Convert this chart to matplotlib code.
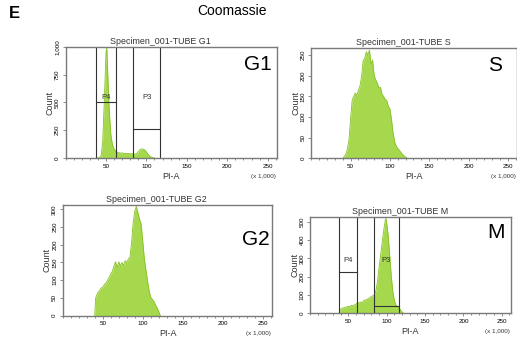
import matplotlib
matplotlib.use('Agg')
import matplotlib.pyplot as plt
from matplotlib.ticker import MultipleLocator, FuncFormatter

plt.rcParams['font.family'] = ['Liberation Sans', 'DejaVu Sans']

# PI-A (x 1,000) bin positions and counts
g1_x = [38, 40, 42, 44, 46, 48, 50, 51, 52, 54, 56, 58, 60, 62, 64, 66, 68, 70, 72, 74,
        76, 78, 80, 82, 84, 86, 88, 90, 92, 94, 96, 98, 100, 102, 104, 106, 108, 110]
g1_counts = [0, 0, 3, 20, 150, 520, 940, 995, 800, 430, 210, 120, 82, 64, 52, 47, 44, 46, 41, 43,
             39, 42, 37, 40, 36, 35, 40, 56, 74, 82, 79, 72, 55, 34, 18, 8, 3, 0]

s_x = [40, 42, 44, 46, 48, 50, 52, 54, 56, 58, 60, 62, 64, 66, 68, 70, 72, 74, 76, 78, 80,
       82, 84, 86, 88, 90, 92, 94, 96, 98, 100, 102, 104, 106, 108, 110, 112, 114, 116,
       118, 120, 122]
s_counts = [0, 4, 10, 22, 45, 95, 140, 150, 158, 152, 165, 175, 198, 236, 242, 258, 250, 262,
            228, 238, 200, 190, 182, 170, 172, 155, 150, 143, 140, 126, 120, 95, 62, 40, 30, 24,
            20, 14, 10, 6, 3, 0]

g2_x = [40, 41, 42, 44, 46, 48, 50, 52, 54, 56, 58, 60, 62, 64, 66, 68, 70, 72, 74, 76, 78,
        80, 82, 84, 86, 88, 90, 92, 94, 96, 98, 100, 102, 104, 106, 108, 110, 112, 114, 116,
        118, 120, 121, 122]
g2_counts = [0, 48, 55, 66, 70, 78, 80, 88, 92, 100, 108, 118, 125, 140, 152, 136, 152, 140,
             150, 142, 155, 150, 160, 165, 205, 262, 295, 308, 290, 272, 258, 210, 160, 128,
             98, 70, 52, 46, 40, 30, 22, 12, 5, 0]

m_x = [38, 39, 40, 42, 44, 46, 48, 50, 52, 54, 56, 58, 60, 62, 64, 66, 68, 70, 72, 74, 76,
       78, 80, 82, 84, 86, 88, 90, 92, 94, 96, 98, 99, 100, 102, 104, 106, 108, 110, 112,
       114, 116, 118, 120, 122]
m_counts = [0, 16, 22, 28, 30, 33, 35, 38, 36, 44, 40, 47, 50, 60, 55, 62, 58, 70, 72, 76,
            80, 86, 92, 96, 100, 125, 175, 250, 315, 385, 450, 505, 518, 490, 420, 310, 200,
            115, 70, 45, 38, 32, 18, 6, 0]

# interval gates: (name, low, high, bar level)
g1_gates = [('P4', 38, 62, 505), ('P3', 84, 117, 261)]
m_gates = [('P4', 38, 61.5, 228), ('P3', 83, 116, 38)]

fill_color = '#a6d84e'
edge_color = '#86c028'
frame_color = '#7a7a7a'


def draw_panel(rect, x, counts, ymax, ystep, title, tag, tag_pos, gates=()):
    ax = fig.add_axes(rect)
    ax.fill_between(x, counts, color=fill_color, lw=0)
    ax.plot(x, counts, color=edge_color, lw=0.6)
    ax.set_xlim(0, 262)
    ax.set_ylim(0, ymax)

    for name, lo, hi, level in gates:
        ax.plot([lo, lo], [0, ymax], color='#333333', lw=0.8, clip_on=False)
        ax.plot([hi, hi], [0, ymax], color='#333333', lw=0.8, clip_on=False)
        ax.plot([lo, hi], [level, level], color='#333333', lw=0.8)
        ax.text((lo + hi) / 2, ymax * 0.51, name, fontsize=5.5, ha='center', va='bottom',
                color='#333333')

    ax.set_xticks([50, 100, 150, 200, 250])
    ax.xaxis.set_minor_locator(MultipleLocator(10))
    ax.yaxis.set_major_locator(MultipleLocator(ystep))
    ax.yaxis.set_major_formatter(FuncFormatter(lambda v, p: f'{int(v):,}'))
    ax.tick_params(which='both', direction='out', color=frame_color, width=0.6,
                   labelsize=4.5, pad=1.5)
    ax.tick_params(which='major', length=2.5)
    ax.tick_params(which='minor', length=1.5)
    ax.tick_params(axis='y', labelrotation=90)
    for lab in ax.get_yticklabels():
        lab.set_va('center')
    for sp in ax.spines.values():
        sp.set_color(frame_color)
        sp.set_linewidth(1.0)

    ax.text(0.447, 1.005, title, transform=ax.transAxes, fontsize=6.4,
            ha='center', va='bottom', color='#333333')
    ax.annotate('PI-A', xy=(0.5, 0), xycoords='axes fraction', xytext=(0, -13),
                textcoords='offset points', ha='center', va='center', fontsize=6.5,
                color='#333333')
    ax.annotate('(x 1,000)', xy=(1, 0), xycoords='axes fraction', xytext=(-1, -13),
                textcoords='offset points', ha='right', va='center', fontsize=4.5,
                color='#333333')
    ax.annotate('Count', xy=(0, 0.5), xycoords='axes fraction', xytext=(-11, 0),
                textcoords='offset points', ha='center', va='center', fontsize=6.5,
                rotation=90, color='#333333')
    ax.text(tag_pos[0], tag_pos[1], tag, transform=ax.transAxes, fontsize=15,
            ha='right', va='top')
    return ax


fig = plt.figure(figsize=(5.17, 3.41), dpi=100)

draw_panel([0.1267, 0.5367, 0.410, 0.3255], g1_x, g1_counts, 1000, 250,
           'Specimen_001-TUBE G1', 'G1', (0.975, 0.93), g1_gates)
draw_panel([0.602, 0.5358, 0.3985, 0.3235], s_x, s_counts, 267, 50,
           'Specimen_001-TUBE S', 'S', (0.925, 0.93))
draw_panel([0.1213, 0.0742, 0.4056, 0.3246], g2_x, g2_counts, 312, 50,
           'Specimen_001-TUBE G2', 'G2', (0.985, 0.77))
draw_panel([0.5996, 0.0812, 0.3888, 0.2833], m_x, m_counts, 527, 100,
           'Specimen_001-TUBE M', 'M', (0.97, 0.93), m_gates)

fig.text(9 / 517, 1 - 13 / 341, 'E', fontsize=12, fontweight='bold', ha='left', va='center')
fig.text(232 / 517, 1 - 11 / 341, 'Coomassie', fontsize=10, ha='center', va='center')

fig.savefig('out.png', dpi=100)
